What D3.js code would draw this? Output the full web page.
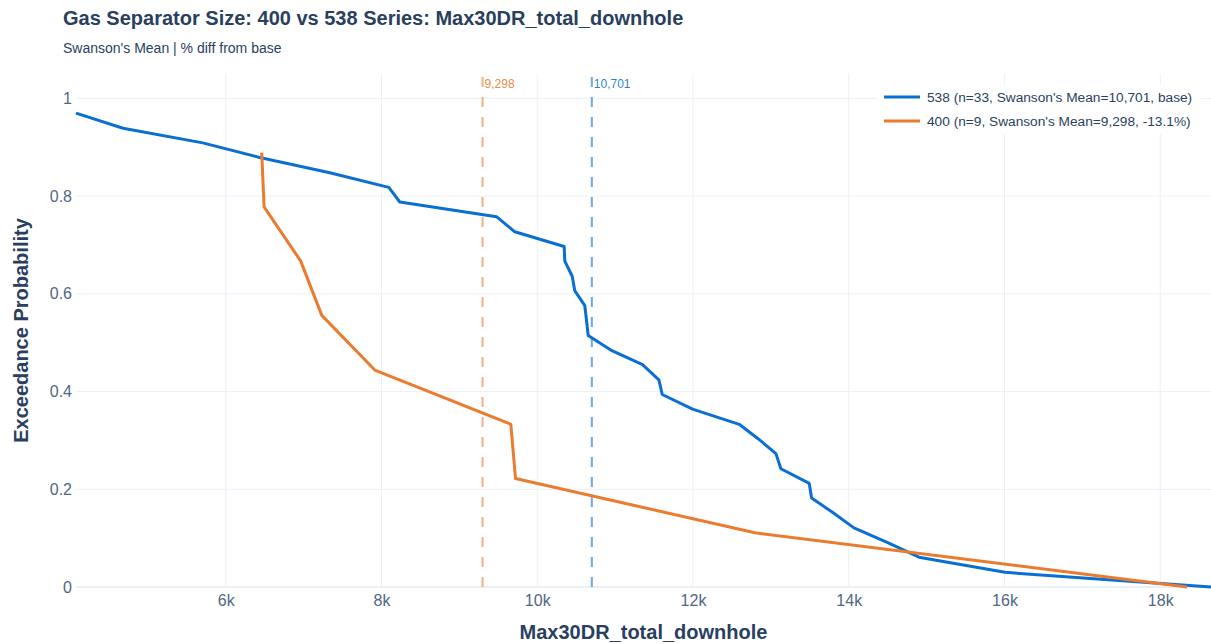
<!DOCTYPE html>
<html>
<head>
<meta charset="utf-8">
<script src="https://cdn.jsdelivr.net/npm/d3@7"></script>
<style>
  html, body { margin: 0; padding: 0; background: #fff; }
  svg { display: block; font-family: "Liberation Sans", Arial, sans-serif; }
</style>
</head>
<body>
<svg id="chart" width="1211" height="644"></svg>
<script>
// Series 538 (n=33): Max30DR_total_downhole values and exceedance probabilities
const values538 = [4077, 4681, 5705, 6437, 7336, 8094, 8235, 9477, 9712, 10346, 10354,
  10449, 10483, 10611, 10633, 10654, 10945, 11352, 11562, 11605, 11995, 12594,
  12840, 13065, 13129, 13493, 13523, 13800, 14067, 14501, 14902, 16006, 18652];
const prob538 = [0.970, 0.939, 0.909, 0.879, 0.848, 0.818, 0.788, 0.758, 0.727, 0.697, 0.667,
  0.636, 0.606, 0.576, 0.545, 0.515, 0.485, 0.455, 0.424, 0.394, 0.364, 0.333,
  0.303, 0.273, 0.242, 0.212, 0.182, 0.152, 0.121, 0.091, 0.061, 0.030, 0];

// Series 400 (n=9)
const values400 = [6462, 6492, 6963, 7233, 7914, 9661, 9721, 12795, 18344];
const prob400 = [0.889, 0.778, 0.667, 0.556, 0.444, 0.333, 0.222, 0.111, 0];

// Swanson's means
const meanLabels = ["538", "400"];
const meanValues = [10701, 9298];

const legendLabels = [
  "538 (n=33, Swanson's Mean=10,701, base)",
  "400 (n=9, Swanson's Mean=9,298, -13.1%)"
];

const xTicks = [6000, 8000, 10000, 12000, 14000, 16000, 18000];
const yTicks = [0, 0.2, 0.4, 0.6, 0.8, 1];

const colors = { "538": "#0a6fd2", "400": "#eb7b2e" };
const textColor = "#2a3f5f";
const gridColor = "#ebf0f8";

const svg = d3.select("#chart");
const margin = { left: 76, right: 0, top: 74, bottom: 57 };
const W = 1211, H = 644;

const x = d3.scaleLinear()
  .domain([d3.min(values538.concat(values400)), d3.max(values538.concat(values400))])
  .range([margin.left, W - margin.right]);
const y = d3.scaleLinear()
  .domain([0, 1.05])
  .range([H - margin.bottom, margin.top]);

svg.append("rect").attr("width", W).attr("height", H).attr("fill", "#fff");

// gridlines
const grid = svg.append("g");
grid.selectAll("line.vg").data(xTicks).join("line")
  .attr("x1", d => x(d)).attr("x2", d => x(d))
  .attr("y1", y(0)).attr("y2", y(1.05))
  .attr("stroke", gridColor).attr("stroke-width", 1);
grid.selectAll("line.hg").data(yTicks.filter(d => d > 0)).join("line")
  .attr("x1", x.range()[0]).attr("x2", x.range()[1])
  .attr("y1", d => y(d)).attr("y2", d => y(d))
  .attr("stroke", gridColor).attr("stroke-width", 1);
// zero line
grid.append("line")
  .attr("x1", x.range()[0]).attr("x2", x.range()[1])
  .attr("y1", y(0)).attr("y2", y(0))
  .attr("stroke", gridColor).attr("stroke-width", 2);

// axes
const xAxis = d3.axisBottom(x).tickValues(xTicks).tickSize(0).tickPadding(8)
  .tickFormat(d => d3.format("d")(d / 1000) + "k");
const gx = svg.append("g").attr("transform", `translate(0,${y(0)})`).call(xAxis);
gx.select(".domain").remove();
gx.selectAll("text").attr("fill", "#506784").style("font-size", "16px")
  .attr("font-family", "Liberation Sans, Arial, sans-serif");

const yAxis = d3.axisLeft(y).tickValues(yTicks).tickSize(0).tickPadding(4)
  .tickFormat(d => d3.format("~g")(d));
const gy = svg.append("g").attr("transform", `translate(${margin.left},0)`).call(yAxis);
gy.select(".domain").remove();
gy.selectAll("text").attr("fill", "#506784").style("font-size", "16px")
  .attr("font-family", "Liberation Sans, Arial, sans-serif");

// Swanson's mean reference lines
const vl = svg.append("g");
meanLabels.forEach((k, i) => {
  const xv = x(meanValues[i]);
  vl.append("line")
    .attr("x1", xv).attr("x2", xv)
    .attr("y1", y(0)).attr("y2", y(1.05))
    .attr("stroke", colors[k]).attr("stroke-width", 2)
    .attr("stroke-opacity", 0.6)
    .attr("stroke-dasharray", "10,10");
  vl.append("text")
    .attr("x", xv + 2).attr("y", 88)
    .attr("fill", colors[k]).attr("fill-opacity", 0.9)
    .style("font-size", "12px")
    .text(d3.format(",")(meanValues[i]));
});

// exceedance curves
const line = d3.line().x(d => x(d[0])).y(d => y(d[1]));
const series = [
  { key: "538", pts: d3.zip(values538, prob538) },
  { key: "400", pts: d3.zip(values400, prob400) }
];
svg.append("g").selectAll("path").data(series).join("path")
  .attr("d", d => line(d.pts))
  .attr("fill", "none")
  .attr("stroke", d => colors[d.key])
  .attr("stroke-width", 3)
  .attr("stroke-linejoin", "round");

// legend
const lg = svg.append("g");
lg.append("rect").attr("x", 877).attr("y", 84).attr("width", 324).attr("height", 50)
  .attr("fill", "#fff").attr("fill-opacity", 0.9);
legendLabels.forEach((t, i) => {
  const k = meanLabels[i];
  const yy = 97 + i * 24;
  lg.append("line").attr("x1", 884).attr("x2", 920).attr("y1", yy).attr("y2", yy)
    .attr("stroke", colors[k]).attr("stroke-width", 3);
  lg.append("text").attr("x", 927).attr("y", yy + 5)
    .attr("fill", textColor).style("font-size", "13.7px").text(t);
});

// titles
svg.append("text").attr("x", 63).attr("y", 25)
  .attr("fill", textColor).style("font-size", "20px").style("font-weight", "bold")
  .text("Gas Separator Size: 400 vs 538 Series: Max30DR_total_downhole");
svg.append("text").attr("x", 63).attr("y", 53)
  .attr("fill", textColor).style("font-size", "14px")
  .text("Swanson's Mean | % diff from base");

svg.append("text")
  .attr("x", (x.range()[0] + x.range()[1]) / 2).attr("y", 639)
  .attr("text-anchor", "middle")
  .attr("fill", textColor).style("font-size", "20px").style("font-weight", "bold")
  .text("Max30DR_total_downhole");
svg.append("text")
  .attr("transform", `translate(${28},${(y(0) + y(1.05)) / 2}) rotate(-90)`)
  .attr("text-anchor", "middle")
  .attr("fill", textColor).style("font-size", "20px").style("font-weight", "bold")
  .text("Exceedance Probability");
</script>
</body>
</html>
